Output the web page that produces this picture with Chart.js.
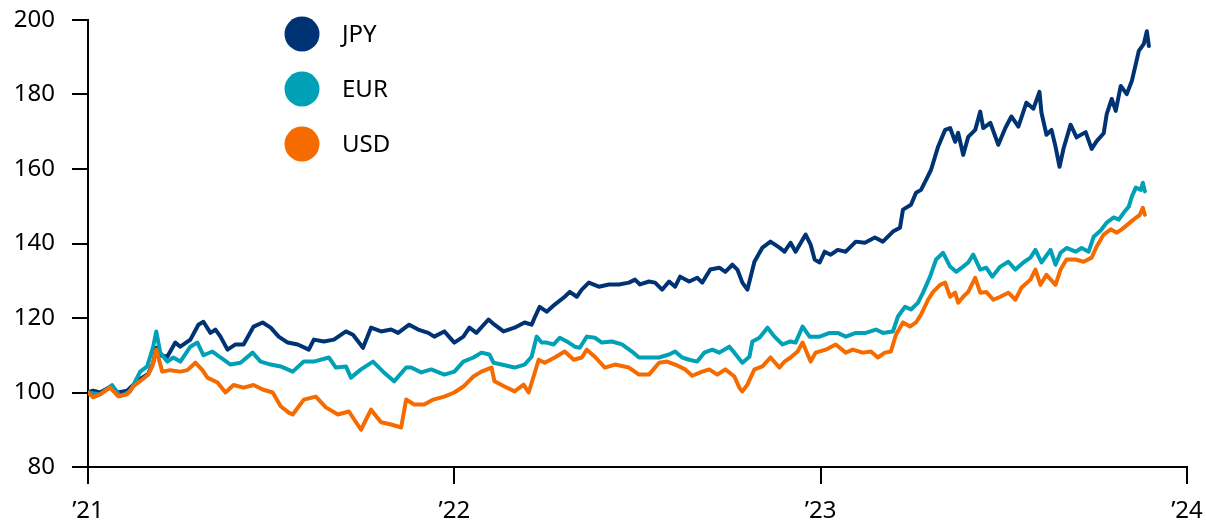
<!DOCTYPE html>
<html>
<head>
<meta charset="utf-8">
<script src="https://cdn.jsdelivr.net/npm/chart.js@4.4.1/dist/chart.umd.min.js"></script>
<style>
  body { margin: 0; background: #fff; }
  #wrap { width: 1206px; height: 526px; position: relative; }
</style>
</head>
<body>
<div id="wrap"><canvas id="fxChart"></canvas></div>
<script>
// Achse: Tage seit 1.1.2021
const YEAR_DAYS = [0, 365, 730, 1095];
const YEAR_LABELS = ['\u201921', '\u201922', '\u201923', '\u201924'];
const Y_TICKS = [80, 100, 120, 140, 160, 180, 200];

const SERIES_NAMES = ['JPY', 'EUR', 'USD'];
const SERIES_COLORS = ['#003373', '#00a0b6', '#f56b00'];

// JPY
const jpyDays = [0,5,12,22,30,39,45,54,60,65,68,72,79,87,92,102,110,115,122,127,132,139,147,155,165,174,182,190,199,209,220,225,235,245,257,264,274,282,292,302,309,320,329,339,345,355,365,374,380,387,399,405,414,425,435,442,445,450,457,465,475,480,487,492,499,509,519,529,539,545,550,559,565,572,579,585,590,599,607,612,620,629,635,642,647,652,657,664,672,680,689,694,700,705,715,720,724,729,734,740,747,755,765,774,784,792,802,809,812,820,825,830,835,840,847,854,859,864,867,872,877,884,889,892,899,907,914,920,927,935,942,948,950,955,960,964,968,972,979,985,994,1000,1005,1012,1015,1020,1024,1029,1035,1040,1044,1047,1052,1055,1057];
const jpyValues = [100,100.5,100,101.5,100,100.5,102,104,105,108,112,110,109.6,113.4,112.3,114.2,118.2,119,116,116.9,115,111.5,112.9,112.9,117.7,118.8,117.4,115,113.4,112.9,111.5,114.2,113.7,114.2,116.4,115.5,112,117.4,116.4,116.9,116,118.2,116.9,116,115,116.4,113.4,115,117.4,116,119.6,118.2,116.4,117.4,118.8,118.2,120.1,123,121.7,123.6,125.7,127,125.7,127.6,129.5,128.4,129,129,129.5,130.3,129,129.8,129.5,127.6,129.8,128.4,131.1,129.8,130.8,129.5,133,133.5,132.4,134.3,133,129.5,127.6,135.1,138.9,140.5,138.9,137.8,140.2,137.8,142.4,139.7,135.7,134.9,137.8,137,138.3,137.8,140.5,140.2,141.6,140.5,143.2,144.2,149.1,150.4,153.6,154.4,157.1,159.8,166,170.5,171,167.3,169.7,163.8,168.6,170.5,175.4,171,172.4,166.5,171,174.1,171.4,177.8,176.2,180.7,175.1,169.2,170.5,166,160.6,165.5,171.9,168.5,169.9,165.4,167.5,169.6,174.7,178.8,175.6,182.3,180.1,183.6,188.2,191.7,193.6,197,193];

// EUR
const eurDays = [0,12,24,32,42,52,59,65,68,72,79,85,92,102,109,115,124,132,142,152,164,172,182,192,204,215,225,240,247,257,262,272,284,294,305,317,322,332,342,355,365,374,384,392,400,404,412,425,435,442,447,452,457,464,470,479,485,490,497,505,512,522,532,542,549,559,569,579,585,592,599,607,614,622,629,639,644,652,659,662,669,677,684,692,700,705,712,719,729,739,747,755,765,775,785,792,802,807,814,820,827,832,839,845,852,859,865,872,877,882,889,895,901,909,917,924,932,939,944,950,959,964,969,975,984,990,997,1002,1009,1015,1022,1027,1032,1037,1040,1044,1049,1051,1053];
const eurValues = [100,99.5,102,99,100.3,105.6,107,112.3,116.4,110.7,108.3,109.4,108.3,112.3,113.4,110,111,109.4,107.5,108,110.7,108.3,107.5,107,105.6,108.3,108.3,109.4,106.7,107,104,106.2,108.3,105.6,103,106.7,106.7,105.4,106.2,104.8,105.6,108.3,109.4,110.7,110.2,108,107.5,106.7,107.5,109.6,115,113.4,113.4,112.9,114.7,113.4,112.3,112,115,114.7,113.4,113.7,112.9,111,109.4,109.4,109.4,110.2,111,109.4,108.8,108.3,110.7,111.5,110.7,112.3,110.7,108,109.6,113.7,114.7,117.4,115,112.9,113.7,113.4,117.7,115,115,116,116,115,116,116,116.9,116,116.4,120.4,123,122.3,124.1,126.8,131.1,135.7,137.5,133.8,132.4,133.8,134.9,137,133,133.5,131.1,133.8,135.1,133,134.9,136.2,138.3,134.9,138.3,134.3,137.5,138.8,137.8,138.8,137.8,141.8,143.5,145.6,147,146.4,148.3,149.9,152.6,155,154.4,156.3,154];

// USD
const usdDays = [0,5,12,22,30,39,45,54,60,64,68,74,82,92,99,107,114,119,129,137,145,155,165,174,184,192,200,204,215,227,237,249,260,272,282,292,302,312,317,325,335,344,355,365,374,384,392,402,405,415,425,434,439,444,449,455,465,475,484,492,497,505,515,525,539,549,559,569,577,585,595,602,612,619,627,635,644,649,652,657,664,672,680,689,694,700,707,712,720,725,735,745,755,762,772,780,787,794,800,805,812,819,825,830,837,842,849,854,859,864,867,872,877,884,889,895,902,909,917,924,930,939,944,949,955,964,969,975,984,992,1000,1005,1012,1019,1025,1030,1039,1044,1048,1051,1053];
const usdValues = [100,98.7,99.5,101.3,99,99.5,101.6,103.5,104.8,107,111.5,105.6,106,105.6,106,108,106,104,102.7,100,102,101.3,102,100.8,100,96.3,94.6,94.1,98.1,98.9,96,94.1,94.9,90,95.4,92,91.4,90.6,98.1,96.8,96.8,98.1,98.9,100,101.6,104.3,105.6,106.7,103,101.6,100.3,102.1,100,104.3,108.8,108,109.4,111,108.8,109.4,111.5,109.6,106.7,107.5,106.7,104.8,104.8,108,108.3,107.5,106.2,104.5,105.6,106.2,104.8,106.2,104.3,101.3,100.3,102.1,106.2,107,109.4,106.7,108.3,109.4,111,113.4,108.3,110.7,111.5,112.9,110.7,111.5,110.7,111,109.4,110.7,111,115.5,118.8,117.7,118.8,120.9,124.9,127,128.9,129.5,125.7,126.8,124.1,125.7,127,130.8,126.8,127,124.9,125.7,126.8,124.9,128.1,130.3,133,128.9,131.6,128.9,133,135.7,135.7,135.1,136.2,139.2,142.4,143.8,142.9,143.8,145.8,146.9,147.7,149.6,147.7];

const FONT = '"Noto Sans", "DejaVu Sans", sans-serif';

function toPoints(days, values) {
    return days.map((d, i) => ({ x: d, y: values[i] }));
}

// Legende mit grossen Kreisen oben links
const circleLegend = {
    id: 'circleLegend',
    afterDraw(chart) {
        const ctx = chart.ctx;
        ctx.save();
        ctx.font = '24px ' + FONT;
        ctx.textBaseline = 'middle';
        ctx.textAlign = 'left';
        SERIES_NAMES.forEach((name, i) => {
            const cy = 34 + i * 55;
            ctx.beginPath();
            ctx.arc(302, cy, 17.5, 0, Math.PI * 2);
            ctx.fillStyle = SERIES_COLORS[i];
            ctx.fill();
            ctx.fillStyle = '#000';
            ctx.fillText(name, 342, cy + 1);
        });
        ctx.restore();
    }
};

// Randabstand fest vorgeben (keine automatische Label-Polsterung)
function noAutoPad(scale) {
    scale.paddingTop = 0;
    scale.paddingBottom = 0;
    scale.paddingLeft = 0;
    scale.paddingRight = 0;
}

const seriesData = [
    toPoints(jpyDays, jpyValues),
    toPoints(eurDays, eurValues),
    toPoints(usdDays, usdValues)
];

new Chart(document.getElementById('fxChart'), {
    type: 'line',
    data: {
        datasets: SERIES_NAMES.map((name, i) => ({
            label: name,
            data: seriesData[i],
            borderColor: SERIES_COLORS[i],
            backgroundColor: SERIES_COLORS[i],
            borderWidth: 4,
            pointRadius: 0,
            tension: 0,
            borderJoinStyle: 'round',
            borderCapStyle: 'round',
            order: 2 - i
        }))
    },
    options: {
        responsive: true,
        maintainAspectRatio: false,
        animation: false,
        layout: { padding: { top: 20, right: 19, left: 0, bottom: 0 } },
        plugins: {
            legend: { display: false },
            tooltip: { enabled: false }
        },
        scales: {
            x: {
                type: 'linear',
                min: 0,
                max: 1095,
                afterBuildTicks: (scale) => {
                    scale.ticks = YEAR_DAYS.map(v => ({ value: v }));
                },
                afterFit: (scale) => { scale.height = 59; noAutoPad(scale); },
                ticks: {
                    autoSkip: false,
                    maxRotation: 0,
                    padding: 13,
                    color: '#000',
                    font: { family: FONT, size: 24 },
                    callback: (v) => YEAR_LABELS[YEAR_DAYS.indexOf(v)]
                },
                grid: {
                    drawOnChartArea: false,
                    color: '#000',
                    lineWidth: 2,
                    tickLength: 17
                },
                border: { display: true, color: '#000', width: 2 }
            },
            y: {
                min: 80,
                max: 200,
                afterBuildTicks: (scale) => {
                    scale.ticks = Y_TICKS.map(v => ({ value: v }));
                },
                afterFit: (scale) => { scale.width = 88; noAutoPad(scale); },
                ticks: {
                    padding: 17,
                    color: '#000',
                    font: { family: FONT, size: 24 }
                },
                grid: {
                    drawOnChartArea: false,
                    color: '#000',
                    lineWidth: 2,
                    tickLength: 16
                },
                border: { display: true, color: '#000', width: 2 }
            }
        }
    },
    plugins: [circleLegend]
});
</script>
</body>
</html>
